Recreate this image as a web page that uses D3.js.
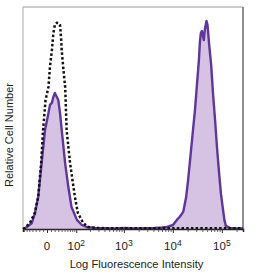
<!DOCTYPE html>
<html>
<head>
<meta charset="utf-8">
<script src="https://cdn.jsdelivr.net/npm/d3@7"></script>
<style>
  html, body { margin: 0; padding: 0; background: #fff; }
  svg { display: block; font-family: "Liberation Sans", Arial, sans-serif; }
</style>
</head>
<body>
<svg id="viz" width="256" height="277"></svg>
<script>
(() => {
  // x values are display decades of the biexponential axis, y values are relative counts (0-100)
  const ctrlX = [-0.49, -0.45, -0.35, -0.25, -0.18, -0.12, -0.08, -0.03, 0.03, 0.04, 0.06, 0.10, 0.13, 0.16, 0.20,
    0.235, 0.265, 0.29, 0.30, 0.33, 0.37, 0.38, 0.40, 0.47, 0.57, 0.63, 0.74, 0.84, 0.98, 1.3, 1.7, 2.1, 2.5, 2.9, 3.3, 3.7, 4.0];
  const ctrlY = [0, 0.5, 2.7, 7.2, 14.4, 29.7, 44.6, 58.1, 64.0, 67.1, 73.0, 80.6, 88.3, 91.9, 92.9,
    92.8, 91.9, 85.1, 80.6, 73.0, 64.0, 58.1, 44.6, 29.7, 14.4, 7.2, 2.7, 0.9, 0.5, 0.3, 0.3, 0.3, 0.3, 0.3, 0.3, 0.3, 0.3];

  const stainX = [-0.49, -0.41, -0.31, -0.245, -0.18, -0.11, -0.04, 0.03, 0.06, 0.10, 0.13, 0.16, 0.19, 0.23, 0.265,
    0.30, 0.37, 0.435, 0.50, 0.61, 0.71, 0.81, 0.98, 1.18, 1.39, 1.59, 1.80, 2.0, 2.20, 2.35, 2.45,
    2.57, 2.65, 2.71, 2.78, 2.84, 2.88, 2.94, 2.98, 3.02, 3.06, 3.10, 3.12, 3.14, 3.16, 3.18, 3.20, 3.22,
    3.255, 3.276, 3.31, 3.35, 3.39, 3.43, 3.47, 3.51, 3.55, 3.59, 3.62, 3.65, 3.73, 3.86, 4.0];
  const stainY = [0, 0.9, 2.7, 7.2, 14.4, 29.7, 44.6, 52.3, 55.9, 56.8, 59.5, 61.3, 59.9, 58.1, 52.3,
    44.6, 29.7, 18.9, 9.9, 4.1, 1.8, 0.9, 0.5, 0.4, 0.2, 0.5, 0.2, 0.4, 0.5, 0.7, 0.9,
    1.8, 4.1, 5.5, 7.7, 14.4, 22.1, 35.6, 44.6, 53.6, 64.9, 76.1, 84.2, 88.3, 89.2, 87.4, 85.1, 89.6,
    93.7, 91.9, 82.9, 73.9, 60.4, 49.1, 36.5, 25.7, 15.8, 9.0, 4.1, 1.4, 0.5, 0.2, 0.2];

  const majorTicks = [0, 100, 1000, 10000, 100000];
  const majorLabels = [["0", ""], ["10", "2"], ["10", "3"], ["10", "4"], ["10", "5"]];
  const minorTicks = [-70, -60, -50, -40, -30, -20, -10, 10, 20, 30, 40, 50, 60, 70, 80, 90,
    200, 300, 400, 500, 600, 700, 800, 900,
    2000, 3000, 4000, 5000, 6000, 7000, 8000, 9000,
    20000, 30000, 40000, 50000, 60000, 70000, 80000, 90000, 200000];

  // biexponential-ish display transform (value -> display decades)
  const W = 54;
  const toDecade = (v) => Math.asinh(v / W) / Math.LN10;

  const svg = d3.select('#viz');
  const left = 23, right = 243, top = 7, bottom = 229;

  const x = d3.scaleLinear().domain([-0.49, 4.0]).range([left, right]);
  const y = d3.scaleLinear().domain([0, 100]).range([bottom, top]);

  const ctrl = ctrlX.map((d, i) => [d, ctrlY[i]]);
  const stain = stainX.map((d, i) => [d, stainY[i]]);

  const area = d3.area().x((d) => x(d[0])).y0(y(0)).y1((d) => y(d[1]));
  const line = d3.line().x((d) => x(d[0])).y((d) => y(d[1]));

  // frame
  svg.append('line').attr('x1', left).attr('x2', right).attr('y1', top).attr('y2', top)
    .attr('stroke', '#9a9a9a').attr('stroke-width', 1.2);
  svg.append('line').attr('x1', left).attr('x2', left).attr('y1', top).attr('y2', bottom)
    .attr('stroke', '#b8b8b8').attr('stroke-width', 1.2);
  svg.append('line').attr('x1', right).attr('x2', right).attr('y1', top).attr('y2', bottom)
    .attr('stroke', '#6a6a6a').attr('stroke-width', 1.5);

  svg.append('path').datum(stain)
    .attr('d', area)
    .attr('fill', '#d6c3e3');

  svg.append('path').datum(stain)
    .attr('d', line)
    .attr('fill', 'none')
    .attr('stroke', '#5f369a')
    .attr('stroke-width', 2.4)
    .attr('stroke-linejoin', 'round');

  svg.append('path').datum(ctrl)
    .attr('d', line)
    .attr('fill', 'none')
    .attr('stroke', '#111')
    .attr('stroke-width', 2.5)
    .attr('stroke-dasharray', '2.5,2.2');

  // bottom axis
  const axisG = svg.append('g').attr('transform', `translate(0,${bottom})`);
  axisG.call(d3.axisBottom(x).tickValues(minorTicks.map(toDecade)).tickSize(3).tickFormat(''));
  axisG.call((g) => g.select('.domain').attr('stroke', '#222').attr('stroke-width', 1.5));
  axisG.selectAll('.tick line').attr('stroke', '#444').attr('stroke-width', 0.8);

  const majorG = svg.append('g').attr('transform', `translate(0,${bottom})`);
  majorG.call(d3.axisBottom(x).tickValues(majorTicks.map(toDecade)).tickSize(4).tickFormat(''));
  majorG.select('.domain').remove();
  majorG.selectAll('.tick line').attr('stroke', '#333').attr('stroke-width', 1);

  const labels = svg.append('g');
  majorTicks.forEach((v, i) => {
    const t = labels.append('text')
      .attr('x', x(toDecade(v)))
      .attr('y', 250)
      .attr('text-anchor', 'middle')
      .attr('font-size', 11.5)
      .attr('fill', '#222');
    t.append('tspan').text(majorLabels[i][0]);
    if (majorLabels[i][1]) {
      t.append('tspan').attr('dy', -4.5).attr('font-size', 8.5).text(majorLabels[i][1]);
    }
  });

  svg.append('text')
    .attr('x', 136.5)
    .attr('y', 268)
    .attr('text-anchor', 'middle')
    .attr('font-size', 11.2)
    .attr('fill', '#222')
    .text('Log Fluorescence Intensity');

  svg.append('text')
    .attr('transform', 'translate(13,135) rotate(-90)')
    .attr('text-anchor', 'middle')
    .attr('font-size', 11)
    .attr('fill', '#222')
    .text('Relative Cell Number');
})();
</script>
</body>
</html>
